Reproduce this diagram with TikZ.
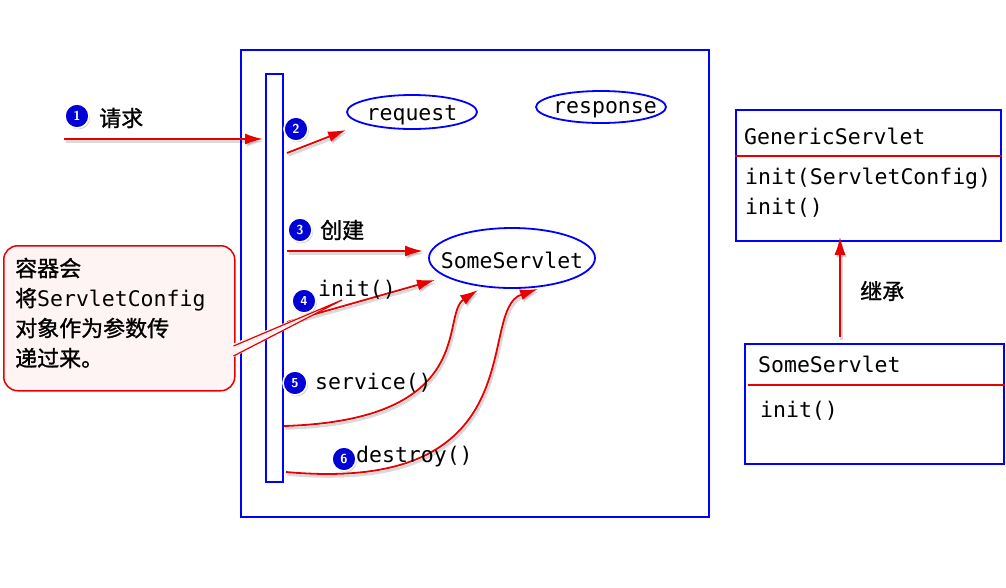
\documentclass[tikz,border=0pt]{standalone}
\usepackage{fontspec}
\setmonofont{DejaVu Sans Mono}
\newfontfamily\cjk[FakeBold=1.2]{Noto Sans CJK SC}
\usetikzlibrary{arrows.meta,shapes.geometric,shadows,calc}
\definecolor{bblue}{RGB}{0,0,255}
\definecolor{rred}{RGB}{232,0,0}
\definecolor{numblue}{RGB}{0,0,215}
\definecolor{pinkfill}{RGB}{255,244,244}
\tikzset{
  box/.style={draw=bblue,line width=1.8pt,inner sep=0pt},
  oval/.style={ellipse,draw=bblue,line width=1.8pt,inner sep=0pt},
  code/.style={font=\ttfamily\fontsize{21.5}{26}\selectfont,inner sep=0pt,anchor=west},
  zh/.style={font=\cjk\fontsize{22}{24}\selectfont,inner sep=0pt},
  num/.style={circle,fill=numblue,draw=white,line width=1.6pt,inner sep=0pt,minimum size=24pt,
     text=white,font=\sffamily\bfseries\fontsize{13}{13}\selectfont,
     drop shadow={opacity=0.35,shadow xshift=1.2pt,shadow yshift=-1.5pt}},
  arr/.style={draw=rred,line width=1.8pt,-{Latex[length=18pt,width=11pt]},
     preaction={draw=black,opacity=0.15,line width=2.6pt,transform canvas={shift={(1.5pt,-2.5pt)}}}},
  sep/.style={draw=rred,line width=1.2pt}
}
\begin{document}
\begin{tikzpicture}[x=1pt,y=-1pt]
\useasboundingbox (0,0) rectangle (1006,587);
% container
\node[box,minimum width=468pt,minimum height=467pt,anchor=north west] (cont) at (240,49) {};
\node[box,minimum width=17pt,minimum height=408pt,anchor=north west] (life) at (265,73) {};
% ellipses
\node[oval,minimum width=130pt,minimum height=34pt] (req) at (412,112) {};
\node[code,anchor=center,yshift=-3pt] (reqt) at (req.center) {request};
\node[oval,minimum width=130pt,minimum height=32pt] (resp) at (601,107) {};
\node[code,anchor=center,yshift=-3pt,xshift=4pt] (respt) at (resp.center) {response};
\node[oval,minimum width=166pt,minimum height=60pt] (some) at (512,258) {};
\node[code,anchor=center,yshift=-2pt] (somet) at (some.center) {SomeServlet};
% coordinates on lifeline / free ends
\coordinate (s1) at (64,139);
\coordinate (e1) at (263,139);
\coordinate (s2) at (287,153);
\coordinate (e2) at (346,130);
\coordinate (s3) at (287,251);
\coordinate (e3) at (423,251);
\coordinate (s4) at (287,322);
\coordinate (e4) at (435,280);
\coordinate (s5) at (284,426);
\coordinate (e5) at (478,290);
\coordinate (s6) at (286,472);
\coordinate (e6) at (538,289);
% arrows
\draw[arr] (s1) -- (e1);
\draw[arr] (s2) -- (e2);
\draw[arr] (s3) -- (e3);
\draw[arr] (s4) -- (e4);
\draw[arr] (s5) .. controls (480,420) and (440,315) .. (e5);
\draw[arr] (s6) .. controls (540,495) and (475,310) .. (e6);
% labels
\node[num] (n1) at (77,116) {1};
\node[zh,anchor=west] (t1) at (99,118) {请求};
\node[num] (n2) at (296,129) {2};
\node[num] (n3) at (300,230) {3};
\node[zh,anchor=west] (t3) at (320,230) {创建};
\node[code] (t4) at (318,290) {init()};
\node[num] (n4) at (304,301) {4};
\node[num] (n5) at (295,383) {5};
\node[code] (t5) at (315,383) {service()};
\node[num] (n6) at (344,459) {6};
\node[code] (t6) at (356,457) {destroy()};
% callout
\node[draw=rred,line width=1.5pt,fill=pinkfill,rounded corners=14pt,minimum width=231pt,minimum height=145pt,anchor=north west] (call) at (3,245) {};
\coordinate (tip) at (342,300);
\fill[pinkfill] (232,344) -- (tip) -- (232,358) -- cycle;
\draw[rred,line width=1.2pt] (233.5,346) -- (tip) -- (233.5,356);
\node[anchor=west,inner sep=0pt,align=left,font=\fontsize{21.5}{30}\selectfont] (calltext) at (15,313)
 {{\cjk\fontsize{22}{30}\selectfont 容器会}\\
  {\cjk\fontsize{22}{30}\selectfont 将}{\ttfamily ServletConfig}\\
  {\cjk\fontsize{22}{30}\selectfont 对象作为参数传}\\
  {\cjk\fontsize{22}{30}\selectfont 递过来。}};
% class boxes
\node[box,minimum width=265pt,minimum height=131pt,anchor=north west] (gs) at (735,109) {};
\draw[sep] (gs.west |- 0,156) -- (gs.east |- 0,156);
\node[code] (gst) at (744,136) {GenericServlet};
\node[code] (gsm1) at (745,179) {init(ServletConfig)};
\node[code] (gsm2) at (745,208) {init()};
\node[box,minimum width=259pt,minimum height=120pt,anchor=north west] (ss) at (744,343) {};
\draw[sep] (748,385) -- (ss.east |- 0,385);
\node[code] (sst) at (758,364) {SomeServlet};
\node[code] (ssm) at (760,411) {init()};
\coordinate (inhbase) at (840,337);
\draw[arr] (inhbase) -- ([yshift=5pt]gs.south -| inhbase);
\node[zh,anchor=west] (inh) at (860,291) {继承};
\end{tikzpicture}
\end{document}
